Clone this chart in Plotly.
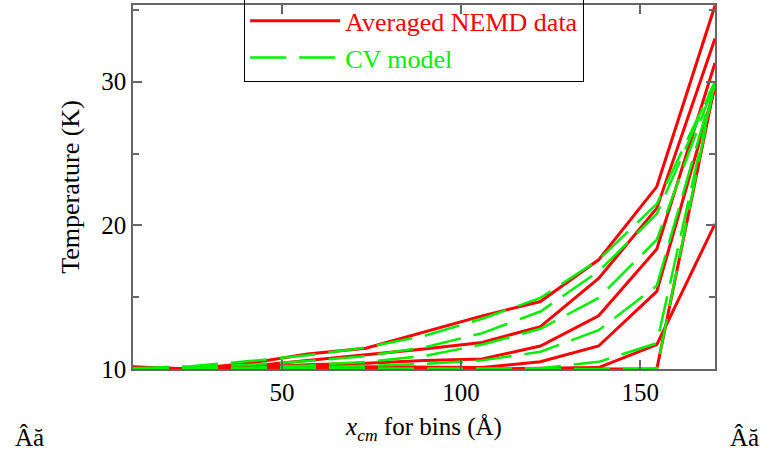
import plotly.graph_objects as go

# bin centre positions (Å)
x_bins = [8.4, 24.65, 40.9, 57.15, 73.4, 89.65, 105.9, 122.15, 138.4, 154.65, 170.9]

# Averaged NEMD data (K), one list per time snapshot
nemd_a = [10.15, 10.0, 10.4, 11.05, 11.45, 12.6, 13.7, 14.7, 17.6, 22.7, 35.3]
nemd_b = [10.1, 10.0, 10.2, 10.6, 10.95, 11.4, 11.85, 12.95, 16.3, 21.2, 33.0]
nemd_c = [10.1, 10.0, 10.1, 10.3, 10.4, 10.6, 10.7, 11.6, 13.7, 18.35, 31.3]
nemd_d = [10.1, 10.0, 10.05, 10.25, 10.15, 10.1, 10.1, 10.5, 11.6, 15.4, 29.6]
nemd_e = [10.1, 10.0, 10.0, 10.1, 10.05, 10.0, 10.0, 10.05, 10.1, 11.7, 20.1]
nemd_f = [10.1, 10.0, 10.0, 10.05, 10.0, 10.0, 10.0, 10.0, 10.0, 10.0, 29.8]

# CV model (K)
cv_a = [10.05, 10.2, 10.55, 10.95, 11.5, 12.3, 13.5, 14.95, 17.6, 21.5, 30.0]
cv_b = [10.0, 10.1, 10.3, 10.55, 10.9, 11.5, 12.5, 14.0, 16.8, 20.8, 30.0]
cv_c = [10.0, 10.05, 10.1, 10.25, 10.5, 10.9, 11.7, 12.8, 14.95, 19.0, 30.0]
cv_d = [10.0, 10.0, 10.05, 10.1, 10.2, 10.35, 10.6, 11.2, 12.7, 15.8, 30.0]
cv_e = [10.0, 10.0, 10.0, 10.0, 10.0, 10.0, 10.0, 10.05, 10.5, 11.8, 30.0]
cv_f = [10.0, 10.0, 10.0, 10.0, 10.0, 10.0, 10.0, 10.0, 10.0, 10.0, 30.0]

nemd_series = [nemd_a, nemd_b, nemd_c, nemd_d, nemd_e, nemd_f]
cv_series = [cv_a, cv_b, cv_c, cv_d, cv_e, cv_f]

RED = "#ff0000"
GREEN = "#00f000"
FONT = "Liberation Serif"

fig = go.Figure()
for i, ys in enumerate(nemd_series):
    fig.add_trace(go.Scatter(
        x=x_bins, y=ys, mode="lines",
        line=dict(color=RED, width=3),
        name="<span style='color:#ff0000'>Averaged NEMD data</span>",
        legendgroup="nemd", showlegend=(i == 0)))
for i, ys in enumerate(cv_series):
    fig.add_trace(go.Scatter(
        x=x_bins, y=ys, mode="lines",
        line=dict(color=GREEN, width=2.5, dash="36px,13px"),
        name="<span style='color:#00f000'>CV model</span>",
        legendgroup="cv", showlegend=(i == 0)))

axis_common = dict(
    showline=True, linecolor="#666666", linewidth=1.5, mirror="ticks",
    ticks="inside", ticklen=9, tickcolor="#666666", tickwidth=1.5,
    showgrid=False, zeroline=False,
    tickfont=dict(family=FONT, size=25, color="black"),
)

fig.update_xaxes(range=[8.4, 170.9], tick0=0, dtick=50, **axis_common,
                 title=dict(text="<i>x</i><sub><i>cm</i></sub> for bins (Å)",
                            font=dict(family=FONT, size=25, color="black"),
                            standoff=13))
fig.update_yaxes(range=[10, 35.34], tick0=0, dtick=10, **axis_common,
                 minor=dict(ticks="inside", dtick=5, ticklen=6,
                            tickcolor="#666666", tickwidth=1.5),
                 title=dict(text="Temperature (K)",
                            font=dict(family=FONT, size=26, color="black"),
                            standoff=14))

fig.update_layout(
    width=768, height=452,
    margin=dict(l=133, r=53, t=5, b=83, autoexpand=False),
    paper_bgcolor="white", plot_bgcolor="white",
    font=dict(family=FONT, size=25, color="black"),
    legend=dict(x=0.191, y=1.024, xanchor="left", yanchor="top",
                bgcolor="rgba(255,255,255,0)", bordercolor="black", borderwidth=1,
                font=dict(family=FONT, size=26),
                itemwidth=90, tracegroupgap=0),
)
# "Âă" marks below the plot, left and right
for xpix in (29, 744):
    fig.add_annotation(text="Âă", showarrow=False,
                       x=(xpix - 133) / 582, y=-(437 - 369) / 364,
                       xref="paper", yref="paper",
                       xanchor="center", yanchor="middle",
                       font=dict(family=FONT, size=25, color="black"))

fig.write_html("out.html")
